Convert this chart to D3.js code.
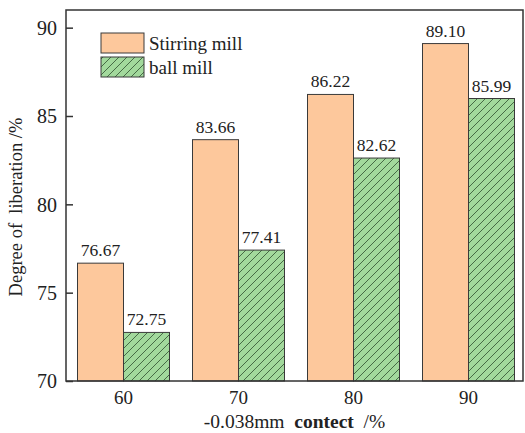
<!DOCTYPE html>
<html><head><meta charset="utf-8">
<script src="https://cdn.jsdelivr.net/npm/d3@7"></script>
<style>body{margin:0;background:#fff}svg{display:block}</style>
</head><body><svg id="c" width="525" height="433"></svg>
<script>
const categories = ["60", "70", "80", "90"];
const seriesNames = ["Stirring mill", "ball mill"];
const stirring = [76.67, 83.66, 86.22, 89.10];
const ball = [72.75, 77.41, 82.62, 85.99];
const yTicks = [70, 75, 80, 85, 90];

const FONT = "'Liberation Serif'";
const svg = d3.select("#c");
const m = {l: 66, t: 10, r: 523, b: 381};
const x = d3.scaleBand().domain(categories).range([m.l, m.l + 115 * 4]).paddingInner(0.2).paddingOuter(0.1);
const xs = d3.scaleBand().domain([0, 1]).range([0, x.bandwidth()]);
const y = d3.scaleLinear().domain([70, 91]).range([m.b, m.t]);

const defs = svg.append("defs");
const pat = defs.append("pattern").attr("id", "hatch").attr("patternUnits", "userSpaceOnUse")
  .attr("width", 8).attr("height", 8);
pat.append("rect").attr("width", 8).attr("height", 8).attr("fill", "#a2d99c");
pat.append("path").attr("d", "M-2,2 L2,-2 M0,8 L8,0 M6,10 L10,6").attr("stroke", "#2f4f2f").attr("stroke-width", 0.8);

const fills = ["#fdc89c", "url(#hatch)"];
const series = [stirring, ball];

series.forEach((vals, si) => {
  svg.append("g").selectAll("rect").data(vals).join("rect")
    .attr("x", (d, i) => x(categories[i]) + xs(si))
    .attr("y", d => y(d))
    .attr("width", xs.bandwidth())
    .attr("height", d => y(70) - y(d))
    .attr("fill", fills[si]).attr("stroke", "#3a3a3a").attr("stroke-width", 1);
  svg.append("g").selectAll("text").data(vals).join("text")
    .attr("x", (d, i) => x(categories[i]) + xs(si) + xs.bandwidth() / 2)
    .attr("y", d => y(d) - 7)
    .attr("text-anchor", "middle").attr("font-size", 17.5)
    .text(d => d.toFixed(2));
});

svg.append("rect").attr("x", m.l).attr("y", m.t).attr("width", m.r - m.l).attr("height", m.b - m.t)
  .attr("fill", "none").attr("stroke", "#333").attr("stroke-width", 1.5);

const ya = svg.append("g").attr("transform", `translate(${m.l},0)`)
  .call(d3.axisLeft(y).tickValues(yTicks).tickSize(-7).tickPadding(9));
ya.select(".domain").remove();
ya.selectAll("line").attr("stroke", "#333").attr("stroke-width", 1.5);
ya.selectAll("text").attr("font-size", 20).attr("dy", "0.34em");

const xa = svg.append("g").attr("transform", `translate(0,${m.b})`)
  .call(d3.axisBottom(x).tickSize(0).tickPadding(10));
xa.select(".domain").remove();
xa.selectAll("text").attr("font-size", 19);

const xt = svg.append("text").attr("x", (m.l + m.r) / 2).attr("y", 428).attr("text-anchor", "middle").attr("font-size", 19.5)
  .attr("xml:space", "preserve");
xt.append("tspan").text("-0.038mm  ");
xt.append("tspan").attr("font-weight", "bold").text("contect");
xt.append("tspan").text("  /%");

svg.append("text").attr("transform", "translate(22,207) rotate(-90)").attr("text-anchor", "middle")
  .attr("font-size", 18.5).attr("xml:space", "preserve").text("Degree of  liberation /%");

const lg = svg.append("g");
seriesNames.forEach((n, i) => {
  lg.append("rect").attr("x", 101).attr("y", 33 + i * 24).attr("width", 43).attr("height", 20)
    .attr("fill", fills[i]).attr("stroke", "#3a3a3a").attr("stroke-width", 1);
  lg.append("text").attr("x", 149).attr("y", 50 + i * 24).attr("font-size", 19).text(n);
});
svg.selectAll("text").style("font-family", FONT).attr("fill", "#222");
</script></body></html>
